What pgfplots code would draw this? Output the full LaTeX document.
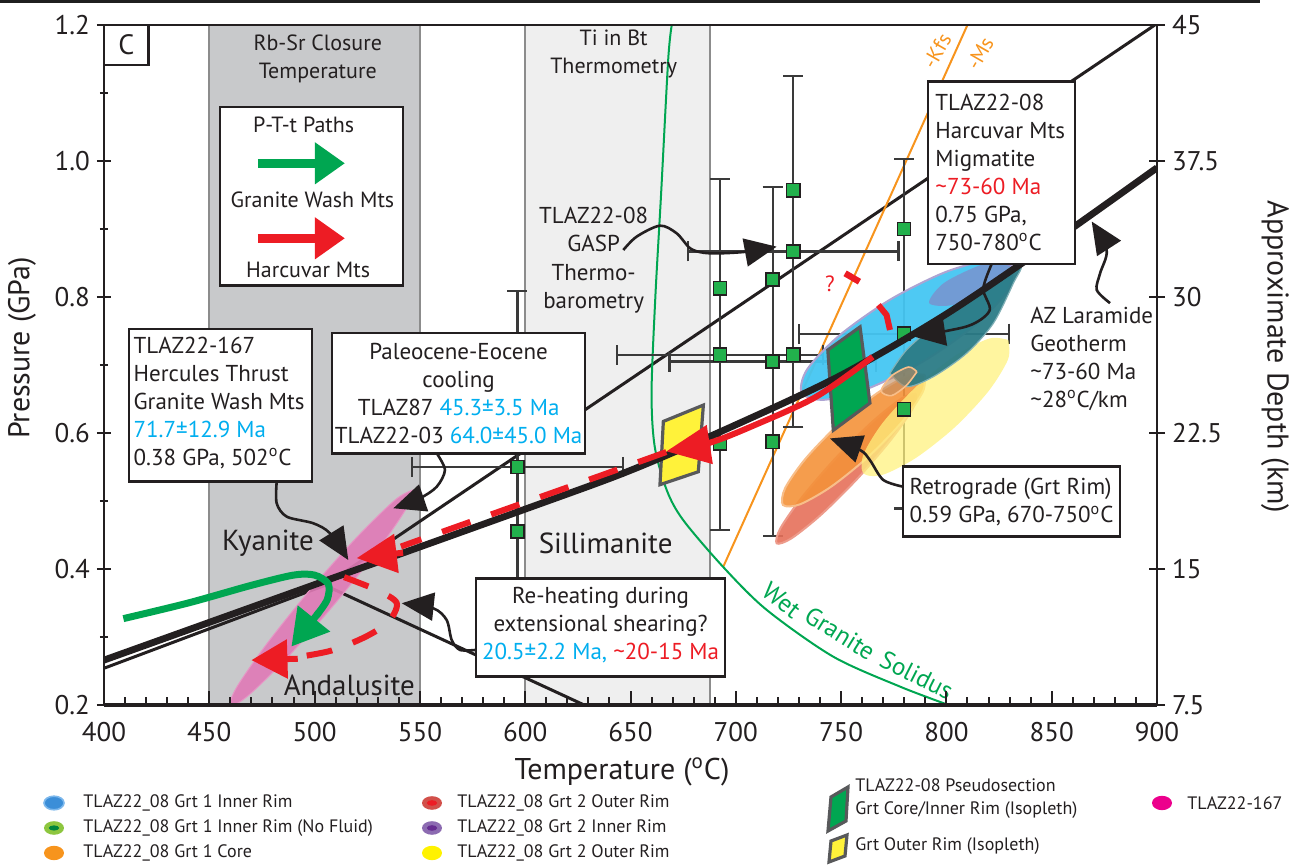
\documentclass[border=0pt]{standalone}
\usepackage{pgfplots}
\pgfplotsset{compat=1.18}
\usepackage{fontspec}
\setmainfont{PT Sans}
\usetikzlibrary{arrows.meta}

\definecolor{ink}{HTML}{231F20}
\definecolor{bandgray}{HTML}{C8C9CB}
\definecolor{bandlight}{HTML}{EFEFEF}
\definecolor{bandedge}{HTML}{8C8C8C}
\definecolor{ageblue}{HTML}{00AEEF}
\definecolor{agered}{HTML}{ED1C24}
\definecolor{pathgreen}{HTML}{00A651}
\definecolor{sqgreen}{HTML}{22B14C}
\definecolor{kfsorange}{HTML}{F7941D}
\definecolor{errgray}{HTML}{3A3A3A}
\definecolor{grtblue}{HTML}{45C6F2}
\definecolor{grtteal}{HTML}{2B7B86}
\definecolor{grtorange}{HTML}{F4923A}
\definecolor{grtsalmon}{HTML}{E5705A}
\definecolor{grtyellow}{HTML}{FFF27F}
\definecolor{grtpurple}{HTML}{8A7DC0}
\definecolor{grtbrown}{HTML}{C08A5E}
\definecolor{pinklens}{HTML}{E07AB6}
\definecolor{isogray}{HTML}{58595B}
\definecolor{isoyellow}{HTML}{FFF23A}
\definecolor{lgblue}{HTML}{3B8ED8}
\definecolor{lgblueedge}{HTML}{7DB8EC}
\definecolor{lggreen}{HTML}{8DC63F}
\definecolor{lggreenin}{HTML}{00853E}
\definecolor{lgred}{HTML}{D2504A}
\definecolor{lgpurple}{HTML}{8C6BB1}
\definecolor{lgpurplein}{HTML}{662D91}
\definecolor{lgyellow}{HTML}{FFF200}
\definecolor{lgmagenta}{HTML}{EC008C}

\newcommand{\degC}{\textsuperscript{o}C}
\tikzset{
  boxtext/.style={font=\fontsize{11.5}{14}\selectfont, text=ink, inner sep=0pt},
  pointer/.style={ink, line width=1.3pt, smooth, -{Triangle[length=16pt,width=14pt]}},
  solidus/.style={inner sep=0pt, font=\fontsize{12.5}{13}\selectfont, text=pathgreen},
}

\begin{document}
\begin{tikzpicture}
\useasboundingbox (-52pt,-80pt) rectangle (599.5pt,352.5pt);
\fill[black!88] (-52pt,351pt) rectangle (578pt,352.5pt);

\begin{axis}[
  at={(0pt,0pt)}, anchor=south west,
  width=526.5pt, height=340pt, scale only axis,
  xmin=400, xmax=900, ymin=0.2, ymax=1.2,
  xtick={400,450,...,900}, minor x tick num=4,
  ytick={0.2,0.4,0.6,0.8,1.0,1.2}, minor ytick={0.3,0.5,0.7,0.9,1.1},
  yticklabel style={/pgf/number format/.cd, fixed, fixed zerofill, precision=1},
  xticklabel style={yshift=-5pt},
  /pgf/number format/assume math mode=true,
  tick pos=left, xtick align=inside, ytick align=center,
  major tick length=7pt, minor tick length=4pt,
  tick style={ink, line width=1pt},
  axis line style={ink, line width=1.3pt},
  tick label style={font=\fontsize{13.5}{14}\selectfont, text=ink},
  axis on top, clip mode=individual,
]

% temperature windows
\addplot[fill=bandgray, draw=none, forget plot] coordinates {(450,0.2)(450,1.2)(550,1.2)(550,0.2)};
\addplot[fill=bandlight, draw=none, forget plot] coordinates {(600,0.2)(600,1.2)(687.7,1.2)(687.7,0.2)};
\addplot[bandedge, line width=1pt] coordinates {(450,0.2)(450,1.2)};
\addplot[bandedge, line width=1pt] coordinates {(550,0.2)(550,1.2)};
\addplot[bandedge, line width=1pt] coordinates {(600,0.2)(600,1.2)};
\addplot[bandedge, line width=1pt] coordinates {(687.7,0.2)(687.7,1.2)};

% Al2SiO5 phase boundaries
\addplot[ink, line width=1.5pt] coordinates {(400,0.254)(505,0.376)};
\addplot[ink, line width=1.5pt] coordinates {(505,0.376)(899,1.2)};
\addplot[ink, line width=1.5pt] coordinates {(505,0.376)(628,0.2)};

% muscovite dehydration melting and wet granite solidus
\addplot[kfsorange, line width=1pt] coordinates {(694,0.403)(810,1.2)};
\addplot[pathgreen, line width=1pt, smooth] coordinates {
  (669.6,1.2)(667.9,1.149)(664.5,0.95)(661.8,0.80)(660,0.66)(661.5,0.58)
  (667.2,0.516)(675,0.472)(694,0.403)(714.6,0.340)(746.3,0.271)(778,0.227)(801,0.2)};

% GASP thermobarometry error bars
\addplot[only marks, mark=none, forget plot,
  error bars/.cd, x dir=both, x explicit, y dir=both, y explicit,
  error bar style={errgray, line width=1.1pt},
  error mark options={errgray, line width=1.1pt, mark size=5pt, rotate=90}]
  table[x=T, y=P, x error=eT, y error=eP] {
T      P      eT   eP
596.3  0.550  50   0.259
692.5  0.715  49   0.258
717.5  0.705  49   0.257
727.3  0.867  50   0.258
779.9  0.746  50   0.257
};

% TLAZ22-167 conditions
\addplot[fill=pinklens, draw=pinklens!80!white, fill opacity=0.9, line width=0.5pt, smooth] coordinates {
  (546.7,0.5163)(543.4,0.4883)(529.4,0.4254)(508.3,0.3441)(486.0,0.2664)(468.2,0.2131)
  (459.8,0.1985)(463.1,0.2265)(477.2,0.2894)(498.2,0.3707)(520.6,0.4484)(538.3,0.5017)(546.7,0.5163)};

% TLAZ22-08 garnet zones
\addplot[fill=grtsalmon, draw=grtsalmon!70!white, fill opacity=0.9, line width=1pt, smooth] coordinates {
  (785.8,0.6583)(784.0,0.636)(773.7,0.5902)(757.8,0.533)(740.5,0.4798)(726.4,0.445)
  (719.4,0.4377)(721.2,0.46)(731.5,0.5058)(747.4,0.563)(764.7,0.6162)(778.8,0.651)(785.8,0.6583)};
\addplot[fill=grtorange, draw=grtorange!60!white, fill opacity=0.9, line width=1pt, smooth] coordinates {
  (789.8,0.6853)(788.8,0.6606)(779.1,0.6169)(763.2,0.5659)(745.4,0.5213)(730.4,0.4950)
  (722.4,0.4941)(723.4,0.5188)(733.2,0.5625)(749.1,0.6135)(766.9,0.6581)(781.8,0.6844)(789.8,0.6853)};
\addplot[fill=grtyellow, draw=none, fill opacity=0.75, smooth] coordinates {
  (829.4,0.7368)(829.3,0.7085)(820.0,0.6615)(804.0,0.6084)(785.6,0.5635)(769.7,0.5385)
  (760.6,0.5406)(760.7,0.5689)(770.0,0.6159)(786.0,0.669)(804.4,0.7139)(820.3,0.7389)(829.4,0.7368)};
\addplot[fill=grtblue, draw=grtpurple!70!white, fill opacity=0.95, line width=1pt, smooth] coordinates {
  (831.6,0.8444)(829.2,0.8099)(814.0,0.7598)(790.1,0.7074)(763.9,0.6668)(742.4,0.6489)
  (731.4,0.6586)(733.8,0.6931)(749.1,0.7432)(773.0,0.7956)(799.2,0.8362)(820.6,0.8541)(831.6,0.8444)};
\addplot[fill=grtpurple, draw=none, fill opacity=0.6, smooth] coordinates {
  (830.6,0.8469)(823.3,0.8168)(803.9,0.7888)(791.8,0.7911)(799.1,0.8212)(818.5,0.8492)(830.6,0.8469)};
\addplot[fill=grtteal, draw=grtteal!60!white, fill opacity=0.95, line width=0.6pt, smooth] coordinates {
  (773.2,0.6878)(781.1,0.7221)(795.4,0.7613)(816.0,0.8103)(834.9,0.8446)(831.8,0.8201)
  (822.3,0.7613)(809.6,0.7172)(793.8,0.6828)(781.1,0.6681)(773.2,0.6878)};
\addplot[fill=grtbrown, draw=grtorange!60!white, fill opacity=0.6, line width=0.8pt, smooth] coordinates {
  (786,0.690)(781,0.670)(774,0.655)(769,0.662)(774,0.684)(782,0.697)(786,0.690)};

% GASP points
\addplot[only marks, mark=square*, mark size=3.3pt, mark options={fill=sqgreen, draw=ink, line width=0.8pt}] coordinates {
  (596.3,0.550)(596.3,0.455)
  (692.5,0.813)(692.5,0.715)(692.5,0.585)
  (717.5,0.826)(717.5,0.705)(717.5,0.587)
  (727.3,0.957)(727.3,0.867)(727.3,0.715)
  (779.9,0.900)(779.9,0.746)(779.9,0.635)};

% pseudosection isopleth intersections
\addplot[fill=pathgreen, draw=isogray, line width=1.6pt, line join=miter] coordinates {
  (743.7,0.722)(759,0.756)(763.7,0.644)(746.3,0.604)} -- cycle;
\addplot[fill=isoyellow, draw=isogray, line width=1.6pt, line join=miter] coordinates {
  (665.6,0.617)(684.6,0.641)(682.2,0.543)(664,0.524)} -- cycle;

% AZ Laramide geotherm
\addplot[ink, line width=3.4pt, smooth] coordinates {
  (400,0.266)(500,0.377)(600,0.488)(650,0.545)(700,0.612)(750,0.685)(800,0.775)(850,0.880)(900,0.990)};

% Harcuvar P-T-t path
\addplot[agered, line width=3pt, smooth, -{Triangle[length=22pt,width=19pt]}] coordinates {
  (765,0.712)(738,0.653)(707,0.609)(687,0.585)(667,0.573)};
\addplot[agered, line width=3pt, smooth, dash pattern=on 15pt off 11pt] coordinates {
  (667,0.572)(635.5,0.537)(600,0.498)(570,0.465)(550,0.443)(541,0.433)};
\addplot[agered, line width=3pt, -{Triangle[length=20pt,width=19pt]}] coordinates {(542,0.424)(520,0.416)};
\addplot[agered, line width=3pt, smooth, dash pattern=on 13pt off 11pt] coordinates {
  (514,0.388)(529.5,0.369)(539,0.35)(535,0.322)(524,0.30)(508,0.28)(491,0.27)};
\addplot[agered, line width=3pt, -{Triangle[length=18pt,width=19pt]}] coordinates {(492,0.268)(470,0.266)};
\addplot[agered, line width=3pt] coordinates {(767.7,0.7882)(771.6,0.7735)(773.2,0.7515)};
\addplot[agered, line width=3.2pt] coordinates {(751.9,0.8348)(758.7,0.8225)};

% Granite Wash P-T-t path
\addplot[pathgreen, line width=3.5pt, smooth] coordinates {
  (409.2,0.327)(440,0.350)(470,0.376)(490,0.391)(500,0.391)(506.5,0.378)(506,0.355)(501,0.332)};
\addplot[pathgreen, line width=3.5pt, -{Triangle[length=18pt,width=20pt]}] coordinates {(502,0.336)(489,0.286)};

% field labels
\node[anchor=west, font=\fontsize{14.5}{15}\selectfont, text=ink] at (452.7,0.438) {Kyanite};
\node[anchor=west, font=\fontsize{14.5}{15}\selectfont, text=ink] at (603.1,0.438) {Sillimanite};
\node[anchor=west, font=\fontsize{14.5}{15}\selectfont, text=ink] at (482,0.229) {Andalusite};
\node[solidus, rotate=-38] at (721.7,0.3544) {Wet};
\node[solidus, rotate=-32] at (749.5,0.3054) {Granite};
\node[solidus, rotate=-27] at (785.9,0.2441) {Solidus};
\node[rotate=60, inner sep=0pt, font=\fontsize{10.5}{11}\selectfont, text=kfsorange] at (795.5,1.162) {-Kfs};
\node[rotate=60, inner sep=0pt, font=\fontsize{10.5}{11}\selectfont, text=kfsorange] at (816,1.158) {-Ms};
\node[inner sep=0pt, font=\fontsize{11}{12}\selectfont, text=agered] at (744.7,0.82) {?};

\node[align=center, font=\fontsize{11}{14}\selectfont, text=ink] at (501.5,1.15) {Rb-Sr Closure\\Temperature};
\node[align=center, font=\fontsize{11}{14}\selectfont, text=ink] at (642,1.157) {Ti in Bt\\Thermometry};
\node[align=center, font=\fontsize{11.5}{14.2}\selectfont, text=ink] at (632.5,0.854) {TLAZ22-08\\GASP\\Thermo-\\barometry};

% panel letter
\draw[ink, line width=1.2pt, fill=white] (400,1.2) rectangle (421.2,1.141);
\node[font=\fontsize{14}{15}\selectfont, text=ink] at (410.6,1.1705) {C};

% path key
\draw[ink, line width=1.2pt, fill=white] (455.1,1.079) rectangle (542,0.8166);
\node[font=\fontsize{11}{12}\selectfont, text=ink] at (494.8,1.053) {P-T-t Paths};
\node[font=\fontsize{11}{12}\selectfont, text=ink] at (499,0.9426) {Granite Wash Mts};
\node[font=\fontsize{11}{12}\selectfont, text=ink] at (496.9,0.8397) {Harcuvar Mts};
\draw[pathgreen, line width=4.5pt, -{Triangle[length=15pt,width=20pt]}] (473.1,0.9966) -- (514.4,0.9966);
\draw[agered, line width=4.5pt, -{Triangle[length=15pt,width=20pt]}] (473.1,0.8863) -- (514.4,0.8863);

% sample boxes
\draw[ink, line width=1.2pt, fill=white] (791.4,1.1166) rectangle (861.1,0.8485);
\node[boxtext, align=left, anchor=west] at (794.6,0.9835)
  {TLAZ22-08\\Harcuvar Mts\\Migmatite\\{\color{agered}\textasciitilde73-60 Ma}\\0.75 GPa,\\750-780\degC};

\draw[ink, line width=1.2pt, fill=white] (779.5,0.5505) rectangle (882.4,0.4475);
\node[boxtext, align=left, anchor=west] at (782.4,0.4978)
  {Retrograde (Grt Rim)\\0.59 GPa, 670-750\degC};

\draw[ink, line width=1.2pt, fill=white] (412.0,0.7525) rectangle (498.9,0.5284);
\node[boxtext, align=left, anchor=west] at (413.9,0.644)
  {TLAZ22-167\\Hercules Thrust\\Granite Wash Mts\\{\color{ageblue}71.7±12.9 Ma}\\0.38 GPa, 502\degC};

\draw[ink, line width=1.2pt, fill=white] (508.4,0.7466) rectangle (628.4,0.5701);
\node[boxtext, align=center] at (568.4,0.6588)
  {Paleocene-Eocene\\cooling\\TLAZ87 {\color{ageblue}45.3±3.5 Ma}\\TLAZ22-03 {\color{ageblue}64.0±45.0 Ma}};

\draw[ink, line width=1.2pt, fill=white] (576.6,0.3863) rectangle (694.9,0.2416);
\node[boxtext, align=center] at (635.8,0.318)
  {Re-heating during\\extensional shearing?\\{\color{ageblue}20.5±2.2 Ma,} {\color{agered}\textasciitilde20-15 Ma}};

\node[boxtext, align=left, anchor=west] at (839.7,0.709)
  {AZ Laramide\\Geotherm\\\textasciitilde73-60 Ma\\\textasciitilde28\degC/km};

% pointers
\addplot[pointer] coordinates {(646.6,0.8691)(652.9,0.8887)(664.0,0.9049)(671.9,0.8937)(678.3,0.8716)(684.6,0.8651)(692.5,0.8642)(705.1,0.8666)(719.4,0.874)};
\addplot[pointer] coordinates {(821.5,0.8485)(817.5,0.812)(820.5,0.78)(810,0.757)(784.3,0.742)};
\addplot[pointer] coordinates {(877.7,0.791)(871.4,0.8103)(873,0.835)(876.1,0.869)(869,0.911)};
\addplot[pointer] coordinates {(779.5,0.521)(770,0.531)(763.7,0.56)(759,0.575)(744.7,0.592)};
\addplot[pointer] coordinates {(482,0.5284)(482,0.4966)(486.8,0.4769)(499.4,0.4672)(507.3,0.4525)(516,0.4132)};
\addplot[pointer] coordinates {(558,0.5701)(561.9,0.5456)(558,0.521)(550,0.504)(537.4,0.4893)};
\addplot[pointer] coordinates {(576.6,0.281)(569,0.281)(565.1,0.2956)(562.7,0.325)(556.4,0.3422)(541.4,0.3496)};
\end{axis}

% depth scale
\begin{axis}[
  at={(0pt,0pt)}, anchor=south west,
  width=526.5pt, height=340pt, scale only axis,
  xmin=400, xmax=900, ymin=7.5, ymax=45,
  axis x line=none, axis y line*=right,
  ytick={7.5,15,22.5,30,37.5,45}, yticklabels={7.5,15,22.5,30,37.5,45},
  ytick align=center, major tick length=8pt,
  tick style={ink, line width=1pt},
  axis line style={ink, line width=1.3pt},
  tick label style={font=\fontsize{13.5}{14}\selectfont, text=ink},
]
\addplot[draw=none, forget plot] coordinates {(400,7.5)(900,45)};
\end{axis}
\draw[ink, line width=2pt] (0pt,0pt) -- (526.5pt,0pt);

% axis titles
\node[font=\fontsize{15}{16}\selectfont, text=ink] at (259pt,-33.5pt) {Temperature (\degC)};
\node[rotate=90, font=\fontsize{15}{16}\selectfont, text=ink] at (-41pt,178.5pt) {Pressure (GPa)};
\node[rotate=-90, font=\fontsize{15}{16}\selectfont, text=ink] at (585.5pt,174pt) {Approximate Depth (km)};

% key
\begin{scope}[font=\fontsize{9}{10}\selectfont, every node/.style={anchor=west, text=ink, inner sep=0pt}]
  \fill[lgblue, draw=lgblueedge, line width=0.8pt] (-25pt,-49pt) ellipse (5pt and 3.4pt);
  \node at (-10.5pt,-49pt) {TLAZ22\_08 Grt 1 Inner Rim};
  \fill[lggreen] (-25pt,-61.5pt) ellipse (5pt and 3.4pt);
  \fill[lggreenin] (-25pt,-61.5pt) ellipse (2.6pt and 1.3pt);
  \node at (-10.5pt,-61.5pt) {TLAZ22\_08 Grt 1 Inner Rim (No Fluid)};
  \fill[kfsorange] (-25pt,-74pt) ellipse (5pt and 3.6pt);
  \node at (-10.5pt,-74pt) {TLAZ22\_08 Grt 1 Core};

  \fill[lgred] (164pt,-49pt) ellipse (5pt and 3.4pt);
  \fill[agered] (164pt,-49pt) ellipse (2.6pt and 1.4pt);
  \node at (176.5pt,-49pt) {TLAZ22\_08 Grt 2 Outer Rim};
  \fill[lgpurple] (164pt,-61.5pt) ellipse (5pt and 3.4pt);
  \fill[lgpurplein] (164pt,-61.5pt) ellipse (2.6pt and 1.4pt);
  \node at (176.5pt,-61.5pt) {TLAZ22\_08 Grt 2 Inner Rim};
  \fill[lgyellow] (164pt,-74pt) ellipse (5pt and 3.6pt);
  \node at (176.5pt,-74pt) {TLAZ22\_08 Grt 2 Outer Rim};

  \filldraw[fill=pathgreen, draw=isogray, line width=1.6pt] (362pt,-63pt) -- (363.5pt,-46pt) -- (372pt,-41pt) -- (371pt,-58pt) -- cycle;
  \filldraw[fill=isoyellow, draw=isogray, line width=1.6pt] (362.5pt,-78.5pt) -- (363.5pt,-68pt) -- (371.5pt,-65pt) -- (370.5pt,-75.5pt) -- cycle;
  \node at (375.5pt,-40pt) {TLAZ22-08 Pseudosection};
  \node at (375.5pt,-52.5pt) {Grt Core/Inner Rim (Isopleth)};
  \node at (375.5pt,-70.5pt) {Grt Outer Rim (Isopleth)};

  \fill[lgmagenta] (529pt,-49pt) ellipse (5pt and 3.6pt);
  \node at (541.5pt,-49pt) {TLAZ22-167};
\end{scope}
\end{tikzpicture}
\end{document}
